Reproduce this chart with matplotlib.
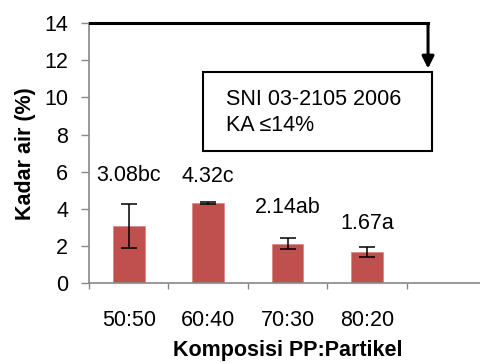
import numpy as np
from matplotlib import pyplot as plt

# data
categories = ['50:50', '60:40', '70:30', '80:20', '']
values = [3.08, 4.32, 2.14, 1.67]
errors = [1.2, 0.03, 0.32, 0.27]
labels = ['3.08bc', '4.32c', '2.14ab', '1.67a']
yticks = [0, 2, 4, 6, 8, 10, 12, 14]

plt.rcParams['font.family'] = ['Liberation Sans Narrow', 'Liberation Sans', 'DejaVu Sans']
fs = 15.5

fig = plt.figure(figsize=(4.81, 3.63), dpi=100)
ax = fig.add_axes([89 / 481, 79.7 / 363, 397 / 481, 260.3 / 363])

x = np.arange(len(values))
ax.bar(x, values, width=0.4, color='#C0504D', edgecolor='#D98A88', linewidth=0.6, zorder=2)
ax.errorbar(x, values, yerr=errors, fmt='none', ecolor='black', elinewidth=1.1,
            capsize=6, capthick=1.1, zorder=3)

offs = [20, 19, 22, 17]
for xi, v, e, lab, o in zip(x, values, errors, labels, offs):
    ax.annotate(lab, (xi, v + e), xytext=(0, o), textcoords='offset points',
                ha='center', va='center', fontsize=fs)

ax.set_xlim(-0.5, len(categories) - 0.5)
ax.set_ylim(0, 14)
ax.set_yticks(yticks)
ax.tick_params(axis='y', labelsize=fs, length=6, width=1, color='#888888', pad=9)

# category labels between boundary ticks
ax.set_xticks(np.arange(len(categories)) - 0.5)
ax.set_xticklabels([])
ax.set_xticks(np.arange(len(categories)), minor=True)
ax.set_xticklabels(categories, minor=True, fontsize=fs)
ax.tick_params(axis='x', which='major', length=4, width=1, color='#888888')
ax.tick_params(axis='x', which='minor', length=0, pad=19)

for s in ['top', 'right']:
    ax.spines[s].set_visible(False)
for s in ['left', 'bottom']:
    ax.spines[s].set_color('#888888')
    ax.spines[s].set_linewidth(1.2)

ax.set_ylabel('Kadar air (%)', fontsize=fs, fontweight='bold', labelpad=6)
ax.set_xlabel('Komposisi PP:Partikel', fontsize=fs, fontweight='bold', labelpad=7)

# SNI standard box with arrow
ax.plot([-0.49, 3.77], [14, 14], color='black', lw=2.2, clip_on=False, zorder=4)
ax.annotate('', xy=(3.77, 11.4), xytext=(3.77, 14.06),
            arrowprops=dict(arrowstyle='-|>', color='black', lw=2.2, mutation_scale=18),
            annotation_clip=False)
ax.text(1.22, 9.2, 'SNI 03-2105 2006\nKA \u226414%', fontsize=fs, ha='left', va='center',
        linespacing=1.3)
box = plt.Rectangle((0.94, 7.1), 2.88, 4.25, fill=False, edgecolor='black', lw=1.5,
                    zorder=4, clip_on=False)
ax.add_patch(box)

fig.savefig('out.png', dpi=100)
